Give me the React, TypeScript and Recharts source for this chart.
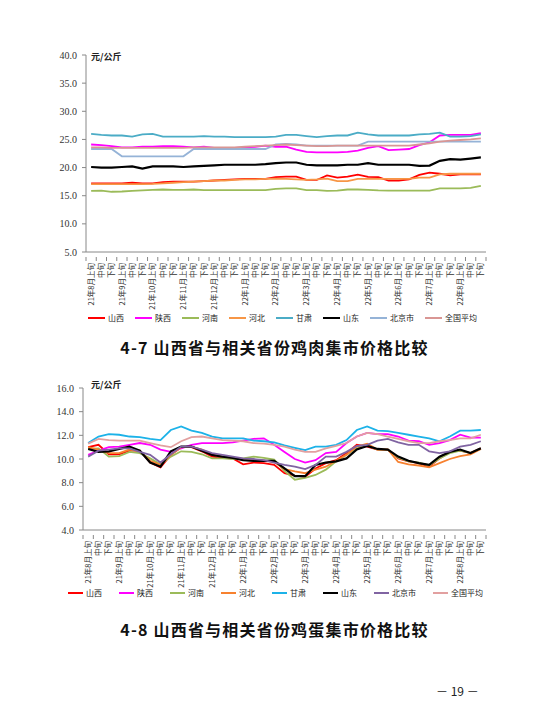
import React from "react";
import { LineChart, Line, XAxis, YAxis, Legend } from "recharts";

const months = [
  "21年8月", "21年9月", "21年10月", "21年11月", "21年12月", "22年1月", "22年2月",
  "22年3月", "22年4月", "22年5月", "22年6月", "22年7月", "22年8月",
];
const xun = ["上旬", "中旬", "下旬"];
const categories = months.flatMap((m) => xun.map((x) => m + x));

const provinces = ["山西", "陕西", "河南", "河北", "甘肃", "山东", "北京市", "全国平均"];

// 4-7 鸡肉 (元/公斤)
const meatShanxi = [17.2, 17.2, 17.2, 17.2, 17.3, 17.2, 17.2, 17.4, 17.5, 17.5, 17.5, 17.6, 17.7, 17.8, 17.9, 18.0, 18.0, 18.0, 18.3, 18.4, 18.4, 17.8, 17.8, 18.6, 18.2, 18.4, 18.75, 18.35, 18.3, 17.7, 17.7, 17.9, 18.7, 19.1, 18.9, 18.6, 18.8, 18.8, 18.8];
const meatShaanxi = [24.1, 24.0, 23.8, 23.6, 23.6, 23.7, 23.7, 23.8, 23.8, 23.7, 23.6, 23.7, 23.5, 23.5, 23.5, 23.6, 23.7, 23.9, 23.7, 23.7, 23.2, 22.8, 22.7, 22.7, 22.7, 22.8, 23.0, 23.5, 23.8, 23.1, 23.2, 23.3, 24.0, 24.5, 25.7, 25.8, 25.8, 25.8, 26.1];
const meatHenan = [15.85, 15.9, 15.7, 15.75, 15.85, 15.95, 16.05, 16.1, 16.05, 16.05, 16.1, 16.0, 16.0, 16.0, 16.0, 16.0, 16.0, 16.0, 16.2, 16.3, 16.3, 16.0, 16.0, 15.85, 15.9, 16.1, 16.1, 16.05, 15.95, 15.9, 15.9, 15.9, 15.9, 15.9, 16.3, 16.3, 16.3, 16.4, 16.75];
const meatHebei = [17.05, 17.05, 17.05, 17.05, 17.05, 17.05, 17.1, 17.2, 17.3, 17.4, 17.5, 17.6, 17.7, 17.7, 17.8, 17.9, 17.9, 18.0, 18.05, 18.0, 17.9, 17.8, 17.9, 18.05, 17.6, 17.6, 18.0, 18.0, 18.0, 18.0, 18.0, 18.0, 18.2, 18.2, 18.8, 18.9, 18.9, 18.9, 18.9];
const meatGansu = [26.0, 25.8, 25.7, 25.7, 25.5, 25.9, 26.0, 25.5, 25.5, 25.5, 25.5, 25.6, 25.5, 25.5, 25.4, 25.4, 25.4, 25.4, 25.5, 25.8, 25.8, 25.6, 25.4, 25.6, 25.7, 25.7, 26.2, 25.9, 25.7, 25.7, 25.7, 25.7, 25.9, 26.0, 26.2, 25.5, 25.5, 25.6, 25.9];
const meatShandong = [20.1, 20.0, 20.0, 20.1, 20.2, 19.8, 20.2, 20.2, 20.2, 20.1, 20.2, 20.3, 20.4, 20.5, 20.5, 20.5, 20.5, 20.6, 20.8, 20.9, 20.9, 20.5, 20.4, 20.4, 20.4, 20.5, 20.5, 20.8, 20.5, 20.5, 20.5, 20.5, 20.3, 20.35, 21.2, 21.5, 21.4, 21.6, 21.8];
const meatBeijing = [23.3, 23.3, 23.3, 22.0, 22.0, 22.0, 22.0, 22.0, 22.0, 22.0, 23.3, 23.3, 23.3, 23.3, 23.3, 23.3, 23.3, 23.3, 24.1, 24.2, 24.1, 23.9, 23.9, 23.9, 23.9, 23.9, 23.9, 24.6, 24.6, 24.6, 24.6, 24.6, 24.6, 24.6, 24.6, 24.6, 24.6, 24.6, 24.6];
const meatNational = [23.6, 23.6, 23.5, 23.5, 23.5, 23.5, 23.5, 23.5, 23.5, 23.5, 23.6, 23.6, 23.6, 23.6, 23.6, 23.7, 23.8, 23.9, 24.0, 24.1, 24.0, 23.9, 23.8, 23.8, 23.9, 23.9, 23.9, 23.9, 23.9, 23.9, 23.9, 23.9, 24.1, 24.3, 24.6, 24.8, 24.9, 25.0, 25.2];

// 4-8 鸡蛋 (元/公斤)
const eggShanxi = [11.0, 11.2, 10.4, 10.4, 10.7, 10.7, 9.7, 9.3, 10.35, 11.0, 11.0, 10.65, 10.2, 10.1, 10.05, 9.55, 9.7, 9.65, 9.5, 8.8, 8.6, 8.5, 9.2, 9.65, 9.9, 10.5, 11.2, 11.05, 10.8, 10.8, 10.05, 9.8, 9.65, 9.35, 10.05, 10.6, 10.7, 10.5, 10.9];
const eggShaanxi = [10.35, 10.7, 11.0, 11.05, 11.2, 11.35, 11.2, 10.8, 10.6, 10.9, 11.2, 11.35, 11.35, 11.35, 11.4, 11.55, 11.7, 11.75, 11.2, 10.6, 10.0, 9.7, 9.9, 10.5, 10.6, 11.35, 11.9, 12.2, 12.1, 12.1, 11.9, 11.55, 11.5, 11.2, 11.35, 11.6, 12.05, 11.8, 11.8];
const eggHenan = [10.85, 10.9, 10.2, 10.25, 10.6, 10.5, 10.05, 9.55, 10.2, 10.65, 10.6, 10.4, 10.05, 10.05, 10.0, 10.05, 10.2, 10.1, 9.95, 9.0, 8.25, 8.4, 8.65, 9.1, 9.8, 10.35, 10.9, 11.15, 10.8, 10.8, 10.1, 9.8, 9.7, 9.45, 10.05, 10.5, 10.7, 10.5, 10.85];
const eggHebei = [11.0, 10.8, 10.5, 10.5, 10.8, 10.65, 9.85, 9.5, 10.35, 11.0, 11.05, 10.8, 10.4, 10.2, 10.1, 10.0, 9.95, 9.85, 9.75, 9.15, 8.95, 8.8, 9.1, 9.35, 9.85, 10.35, 11.05, 11.3, 10.8, 10.8, 9.75, 9.55, 9.45, 9.3, 9.65, 10.0, 10.25, 10.4, 10.85];
const eggGansu = [11.35, 11.9, 12.1, 12.05, 11.9, 11.85, 11.7, 11.6, 12.45, 12.75, 12.4, 12.2, 11.9, 11.75, 11.75, 11.75, 11.55, 11.5, 11.4, 11.15, 10.95, 10.75, 11.05, 11.05, 11.2, 11.6, 12.45, 12.75, 12.4, 12.35, 12.2, 12.05, 11.9, 11.75, 11.5, 11.9, 12.4, 12.4, 12.45];
const eggShandong = [10.85, 10.6, 10.65, 10.85, 11.05, 10.7, 9.7, 9.35, 10.65, 11.05, 11.05, 10.7, 10.35, 10.2, 10.1, 9.9, 9.85, 9.85, 9.85, 9.2, 8.55, 8.55, 9.5, 9.7, 9.8, 10.05, 10.8, 11.1, 10.85, 10.8, 10.2, 9.85, 9.65, 9.5, 10.2, 10.6, 10.8, 10.5, 10.9];
const eggBeijing = [10.2, 10.7, 10.8, 10.9, 10.9, 10.6, 10.35, 9.7, 10.4, 11.05, 11.05, 10.8, 10.5, 10.35, 10.2, 10.05, 10.0, 9.9, 9.7, 9.5, 9.35, 9.15, 9.5, 10.2, 10.2, 10.6, 11.1, 11.2, 11.55, 11.7, 11.4, 11.2, 11.2, 10.65, 10.5, 10.65, 11.05, 11.2, 11.5];
const eggNational = [11.3, 11.7, 11.6, 11.55, 11.55, 11.55, 11.35, 11.15, 11.0, 11.5, 11.85, 11.9, 11.75, 11.6, 11.55, 11.5, 11.35, 11.3, 11.2, 11.05, 10.8, 10.6, 10.6, 10.9, 11.1, 11.35, 11.9, 12.2, 12.1, 11.9, 11.7, 11.5, 11.35, 11.35, 11.5, 11.6, 11.75, 11.75, 12.05];

const meatTicks = [5, 10, 15, 20, 25, 30, 35, 40];
const eggTicks = [4, 6, 8, 10, 12, 14, 16];

const meatColors = ["#ff0000", "#ff00ff", "#9bbb59", "#f79646", "#4bacc6", "#000000", "#95b3d7", "#d99694"];
const eggColors = ["#ff0000", "#ff00ff", "#9bbb59", "#f7812f", "#1cb2e8", "#000000", "#8064a2", "#e2a0a0"];

const meatSeries = [meatShanxi, meatShaanxi, meatHenan, meatHebei, meatGansu, meatShandong, meatBeijing, meatNational];
const eggSeries = [eggShanxi, eggShaanxi, eggHenan, eggHebei, eggGansu, eggShandong, eggBeijing, eggNational];

const toRows = (series: number[][]) =>
  categories.map((name, i) => {
    const row: Record<string, any> = { name };
    provinces.forEach((p, k) => (row[p] = series[k][i]));
    return row;
  });

const meatData = toRows(meatSeries);
const eggData = toRows(eggSeries);

const CJK = '"Noto Sans CJK SC", "Noto Sans", sans-serif';

function CatTick(props: any) {
  const { x, y, payload, index, band } = props;
  const label: string = payload.value;
  const text = label.endsWith("上旬") ? label : label.slice(-2);
  return (
    <g>
      {index === 0 && <line x1={x - band / 2} x2={x - band / 2} y1={y - 3} y2={y + 1} stroke="#888" />}
      <line x1={x + band / 2} x2={x + band / 2} y1={y - 3} y2={y + 1} stroke="#888" />
      <text
        transform={`translate(${x},${y + 3}) rotate(-90)`}
        textAnchor="end"
        dy="0.35em"
        fontSize={7.5}
        fill="#333"
        fontFamily={CJK}
      >
        {text}
      </text>
    </g>
  );
}

function LegendRow({ payload, gap, lineLen, colors }: any) {
  const items = [...(payload || [])].sort(
    (a: any, b: any) => provinces.indexOf(a.value) - provinces.indexOf(b.value)
  );
  return (
    <div style={{ display: "flex", gap, fontSize: 8, color: "#222", fontFamily: CJK, whiteSpace: "nowrap", lineHeight: "12px" }}>
      {items.map((item: any) => (
        <span key={item.value} style={{ display: "flex", alignItems: "center" }}>
          <span
            style={{
              width: lineLen,
              height: 2,
              background: colors[provinces.indexOf(item.value)],
              marginRight: 3,
            }}
          />
          {item.value}
        </span>
      ))}
    </div>
  );
}

function PriceChart(props: any) {
  const { top, height, margin, data, domain, ticks, colors, legendLeft, legendTop, gap, lineLen, band } = props;
  return (
    <div style={{ position: "absolute", left: 0, top, width: 549, height }}>
      <LineChart width={549} height={height} data={data} margin={margin}>
        <XAxis
          dataKey="name"
          interval={0}
          height={50}
          padding={{ left: band / 2, right: band / 2 }}
          axisLine={{ stroke: "#888" }}
          tickLine={false}
          tick={(p: any) => <CatTick {...p} band={band} />}
        />
        <YAxis
          width={30}
          domain={domain}
          ticks={ticks}
          interval={0}
          allowDataOverflow
          axisLine={{ stroke: "#888" }}
          tickLine={{ stroke: "#888" }}
          tickSize={4}
          tickMargin={5}
          tickFormatter={(v: number) => v.toFixed(1)}
          tick={{ fontSize: 10, fill: "#333", fontFamily: '"Liberation Serif", serif' }}
        />
        <Legend
          verticalAlign="middle"
          align="center"
          layout="horizontal"
          wrapperStyle={{ left: legendLeft, top: legendTop, width: "auto" }}
          content={(p: any) => <LegendRow payload={p.payload} gap={gap} lineLen={lineLen} colors={colors} />}
        />
        {provinces.map((p, k) => (
          <Line
            key={p}
            type="linear"
            dataKey={p}
            stroke={colors[k]}
            strokeWidth={p === "山东" ? 2.2 : 1.8}
            dot={false}
            isAnimationActive={false}
          />
        ))}
      </LineChart>
    </div>
  );
}

export default function App() {
  return (
    <div style={{ position: "absolute", left: 0, top: 0, width: 549, height: 717, background: "#fff", fontFamily: CJK }}>
      <PriceChart
        top={0}
        height={340}
        margin={{ top: 55, right: 63, bottom: 38, left: 56 }}
        data={meatData}
        domain={[5, 40]}
        ticks={meatTicks}
        colors={meatColors}
        legendLeft={88}
        legendTop={312}
        gap={11}
        lineLen={17}
        band={400 / 39}
      />
      <div style={{ position: "absolute", left: 91, top: 50, fontSize: 9, fontWeight: 700, color: "#222" }}>元/公斤</div>
      <div style={{ position: "absolute", left: 0, width: 549, top: 335, textAlign: "center", fontSize: 16, fontWeight: 700, letterSpacing: 1.2, color: "#111" }}>
        4-7 山西省与相关省份鸡肉集市价格比较
      </div>

      <PriceChart
        top={360}
        height={250}
        margin={{ top: 28, right: 63, bottom: 30, left: 53 }}
        data={eggData}
        domain={[4, 16]}
        ticks={eggTicks}
        colors={eggColors}
        legendLeft={68}
        legendTop={227}
        gap={17}
        lineLen={15}
        band={403 / 39}
      />
      <div style={{ position: "absolute", left: 91, top: 378, fontSize: 9, fontWeight: 700, color: "#222" }}>元/公斤</div>
      <div style={{ position: "absolute", left: 0, width: 549, top: 617, textAlign: "center", fontSize: 16, fontWeight: 700, letterSpacing: 1.2, color: "#111" }}>
        4-8 山西省与相关省份鸡蛋集市价格比较
      </div>

      <div style={{ position: "absolute", left: 436, top: 682, fontSize: 12, color: "#222" }}>－ 19 －</div>
    </div>
  );
}
